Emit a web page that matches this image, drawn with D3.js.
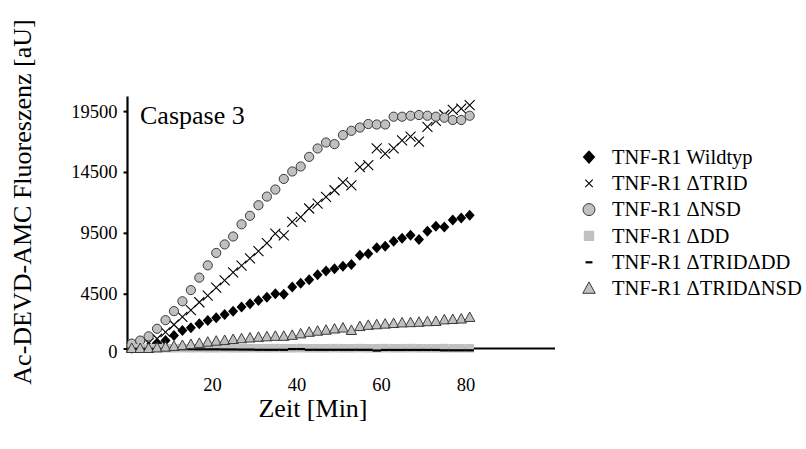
<!DOCTYPE html>
<html><head><meta charset="utf-8">
<script src="https://cdn.jsdelivr.net/npm/d3@7"></script>
<style>
html,body{margin:0;padding:0;background:#fff;}
svg{display:block;}
svg text{font-family:'Liberation Serif','Times New Roman',serif !important;fill:#000;}
</style></head>
<body><svg id="c" width="806" height="449"></svg>
<script>
// ---- data ----
const minutes = [1,3,5,7,9,11,13,15,17,19,21,23,25,27,29,31,33,35,37,39,41,43,45,47,49,51,53,55,57,59,61,63,65,67,69,71,73,75,77,79,81];
const wildtyp = [20,60,150,400,660,1070,1480,1700,2030,2300,2520,2800,3070,3400,3680,3950,4220,4500,4450,5050,5370,5650,6060,6360,6560,6750,6890,7650,7790,8280,8390,8800,9050,9300,8950,9630,10050,9980,10550,10720,10950];
const dTRID = [50,200,450,800,1350,1950,2600,3150,3800,4350,5000,5600,6250,6800,7400,8000,8650,9440,9300,10400,10800,11500,11900,12450,13000,13640,13400,14900,15060,16430,16000,16430,17100,17400,17000,18200,18700,19200,19600,19700,20000];
const dNSD = [400,650,1000,1620,2330,3070,3880,4800,5820,6830,7850,8550,9200,10200,10900,11770,12480,13060,13930,14540,14950,15740,16430,16920,16790,17530,17880,18150,18440,18400,18400,19040,19040,19120,19180,19120,19040,18960,18770,18770,19120];
const dDD = [30,30,20,30,20,20,30,20,30,20,20,30,20,20,30,20,20,30,20,20,30,20,20,20,30,20,20,30,20,20,30,20,20,30,20,20,20,30,20,20,20];
const dTRIDdDD = [-20,-20,-30,-30,-40,-40,-50,-50,-60,-60,-60,-70,-70,-80,-80,-100,-100,-100,-100,-40,-40,-100,-100,-100,-100,-100,-100,-100,-100,-160,-110,-110,-110,-110,-110,-110,-110,-140,-140,-140,-140];
const dTRIDdNSD = [0,0,0,50,110,170,250,330,420,520,600,660,740,800,860,920,960,1000,1000,1080,1200,1330,1420,1500,1600,1680,1480,1800,1900,1950,2000,2050,2100,2120,2150,2200,2220,2350,2380,2420,2550];
const seriesNames = ["TNF-R1 Wildtyp","TNF-R1 \u0394TRID","TNF-R1 \u0394NSD","TNF-R1 \u0394DD","TNF-R1 \u0394TRID\u0394DD","TNF-R1 \u0394TRID\u0394NSD"];
const yTicks = [0,4500,9500,14500,19500];
const xTicks = [20,40,60,80];
const xTitle = "Zeit [Min]";
const yTitle = "Ac-DEVD-AMC Fluoreszenz [aU]";
const panelLabel = "Caspase 3";

// ---- layout ----
const svg = d3.select("#c");
const x = d3.scaleLinear().domain([0,101.2]).range([127.5,555]);
const y = d3.scaleLinear().domain([0,20700]).range([348.5,96.5]);
const gray = "#c0c0c0", edge = "#3a3a3a";
const FONT = "'Liberation Serif','Times New Roman',serif";

const series = [
  {name:seriesNames[0], vals:wildtyp, type:"diamond"},
  {name:seriesNames[1], vals:dTRID, type:"cross"},
  {name:seriesNames[2], vals:dNSD, type:"circle"},
  {name:seriesNames[3], vals:dDD, type:"square"},
  {name:seriesNames[4], vals:dTRIDdDD, type:"dash"},
  {name:seriesNames[5], vals:dTRIDdNSD, type:"triangle"}
];

function drawMarker(g, type, s){
  if(type==="diamond"){
    g.append("path").attr("d",`M0,${-5.5*s}L${5*s},0L0,${5.5*s}L${-5*s},0Z`).attr("fill","#000");
  } else if(type==="cross"){
    g.append("path").attr("d",`M${-5*s},${-5*s}L${5*s},${5*s}M${-5*s},${5*s}L${5*s},${-5*s}`).attr("stroke","#000").attr("stroke-width",1.1).attr("fill","none");
  } else if(type==="circle"){
    g.append("circle").attr("r",4.6*s).attr("fill",gray).attr("stroke",edge).attr("stroke-width",1);
  } else if(type==="square"){
    g.append("rect").attr("x",-4.3*s).attr("y",-4.3*s).attr("width",8.6*s).attr("height",8.6*s).attr("fill",gray);
  } else if(type==="dash"){
    g.append("rect").attr("x",-4.3*s).attr("y",-1).attr("width",8.6*s).attr("height",2.2).attr("fill","#000");
  } else if(type==="triangle"){
    g.append("path").attr("d",`M0,${-5.5*s}L${5.2*s},${4*s}L${-5.2*s},${4*s}Z`).attr("fill",gray).attr("stroke",edge).attr("stroke-width",1);
  }
}

// axes
const yAxis = d3.axisLeft(y).tickValues(yTicks).tickSize(4).tickPadding(6).tickFormat(d3.format("d"));
const gy = svg.append("g").attr("transform",`translate(${x(0)},0)`).call(yAxis);
gy.attr("font-family",FONT).attr("font-size",18.5);
gy.select(".domain").attr("stroke","#000").attr("stroke-width",2.2).attr("d",`M0,${y.range()[1]}V${y(0)+4}`);
gy.selectAll(".tick line").attr("stroke","#000").attr("stroke-width",2);
gy.selectAll(".tick text").style("font-family",FONT).attr("font-size",18.5).attr("fill","#000")
  .attr("dy", d => d===0 ? "0.5em" : "0.32em");

const xAxis = d3.axisBottom(x).tickValues(xTicks).tickSize(0).tickPadding(29).tickFormat(d3.format("d"));
const gx = svg.append("g").attr("transform",`translate(0,${y(0)})`).call(xAxis);
gx.attr("font-family",FONT).attr("font-size",18.5);
gx.select(".domain").attr("stroke","#000").attr("stroke-width",2.2).attr("d",`M${x(0)},0H${x.range()[1]}`);
gx.selectAll(".tick text").style("font-family",FONT).attr("font-size",18.5).attr("fill","#000");

// marks
series.forEach(s=>{
  const g = svg.append("g");
  s.vals.forEach((v,i)=>{
    const m = g.append("g").attr("transform",`translate(${x(minutes[i])},${y(v)})`);
    drawMarker(m, s.type, 1);
  });
});

// panel label
svg.append("text").attr("x",140).attr("y",124).attr("font-size",26).style("font-family",FONT).text(panelLabel);

// axis titles
svg.append("text").attr("x",313).attr("y",417).attr("text-anchor","middle").attr("font-size",26).style("font-family",FONT).text(xTitle);
svg.append("text").attr("transform","translate(31,202) rotate(-90)").attr("text-anchor","middle").attr("font-size",26).style("font-family",FONT).text(yTitle);

// legend
const lg = svg.append("g");
series.forEach((s,i)=>{
  const yy = 157 + i*26.3;
  const m = lg.append("g").attr("transform",`translate(589,${yy})`);
  const sc = {diamond:1.25, cross:0.75, circle:1.3, square:1.2, dash:0.8, triangle:1.2}[s.type];
  drawMarker(m, s.type, sc);
  lg.append("text").attr("x",612).attr("y",yy+6.8).attr("font-size",20.5).style("font-family",FONT).text(s.name);
});
</script></body></html>
